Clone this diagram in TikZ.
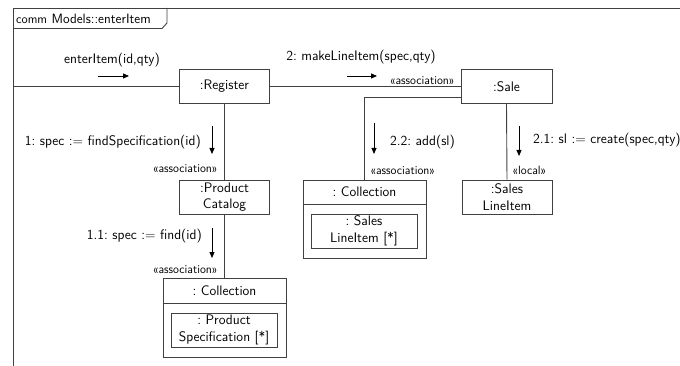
\documentclass[tikz,border=0pt]{standalone}
\usetikzlibrary{arrows.meta,positioning}
\begin{document}
\frenchspacing
\begin{tikzpicture}[x=1pt,y=-1pt,
  font=\sffamily\fontsize{13.8}{16.5}\selectfont,
  ln/.style={draw=black!75,line width=0.9pt},
  obj/.style={ln,rectangle,inner sep=0pt,align=center,fill=white},
  msg/.style={line width=0.9pt,-{Triangle[length=6pt,width=5pt]}},
  lbl/.style={inner sep=0pt},
  stereo/.style={inner sep=0pt,font=\sffamily\fontsize{12}{12}\selectfont}]
\useasboundingbox (0,0) rectangle (680,366);
% frame
\draw[ln] (13,370) -- (13,8) -- (684,8);
\draw[ln] (13,28.5) -- (162,28.5) -- (167,23) -- (167,8);
\node[lbl,anchor=west] (title) at (16,18.5) {{\fontsize{12.5}{13}\selectfont comm} {\fontsize{13.5}{14}\selectfont Models::enterItem}};
\coordinate (entry) at (13,86.5);
% objects
\node[obj,minimum width=90,minimum height=34] (reg) at (224.5,86.5) {:Register};
\node[obj,minimum width=91,minimum height=34] (sale) at (506.5,86.5) {:Sale};
\node[obj,minimum width=90,minimum height=34] (cat) at (224.5,197) {:Product\\Catalog};
\node[obj,minimum width=90,minimum height=34] (sli) at (507,197) {:Sales\\LineItem};
% collection 2
\node[obj,minimum width=123,minimum height=78] (col2) at (364.5,219) {};
\node[lbl] (col2h) at (364.5,192) {: Collection};
\draw[ln] (303,204) -- (426,204);
\node[obj,minimum width=106,minimum height=34] (col2i) at (364,231) {: Sales\\LineItem [*]};
% collection 1
\node[obj,minimum width=123,minimum height=79] (col1) at (224.5,317.5) {};
\node[lbl] (col1h) at (224.5,290.5) {: Collection};
\draw[ln] (163,303) -- (286,303);
\node[obj,minimum width=106,minimum height=34] (col1i) at (224,330) {: Product\\Specification [*]};
% links
\draw[ln] (entry) -- (reg.west);
\draw[ln] (reg.east) -- (sale.west);
\draw[ln] ([yshift=-10.5]sale.west) -| (col2.north);
\draw[ln] (sale.south) -- (sli.north);
\draw[ln] (reg.south) -- (cat.north);
\draw[ln] (cat.south) -- (col1.north);
% messages
\node[lbl] (m0) at (112,60) {enterItem(id,qty)};
\coordinate (a0s) at (98,76); \coordinate (a0e) at (129,76);
\draw[msg] (a0s) -- (a0e);
\node[lbl] (m2) at (361,57) {2: makeLineItem(spec,qty)};
\coordinate (a2s) at (347,76); \coordinate (a2e) at (377,76);
\draw[msg] (a2s) -- (a2e);
\node[stereo,anchor=east] (s2) at (455,81) {«association»};
\node[lbl,anchor=east] (m1) at (201,142) {1: spec := findSpecification(id)};
\coordinate (a1s) at (212,126); \coordinate (a1e) at (212,154);
\draw[msg] (a1s) -- (a1e);
\node[stereo,anchor=east] (s1) at (218,169) {«association»};
\node[lbl,anchor=east] (m11) at (202,236) {1.1: spec := find(id)};
\coordinate (a11s) at (212,228); \coordinate (a11e) at (212,258);
\draw[msg] (a11s) -- (a11e);
\node[stereo,anchor=east] (s11) at (218,270) {«association»};
\node[lbl,anchor=west] (m22) at (390,142) {2.2: add(sl)};
\coordinate (a22s) at (374,123); \coordinate (a22e) at (374,154);
\draw[msg] (a22s) -- (a22e);
\node[stereo,anchor=west] (s22) at (370,171) {«association»};
\node[lbl,anchor=west] (m21) at (533,140) {2.1: sl := create(spec,qty)};
\coordinate (a21s) at (519,126); \coordinate (a21e) at (519,156);
\draw[msg] (a21s) -- (a21e);
\node[stereo,anchor=west] (s21) at (512,170) {«local»};
\end{tikzpicture}
\end{document}
